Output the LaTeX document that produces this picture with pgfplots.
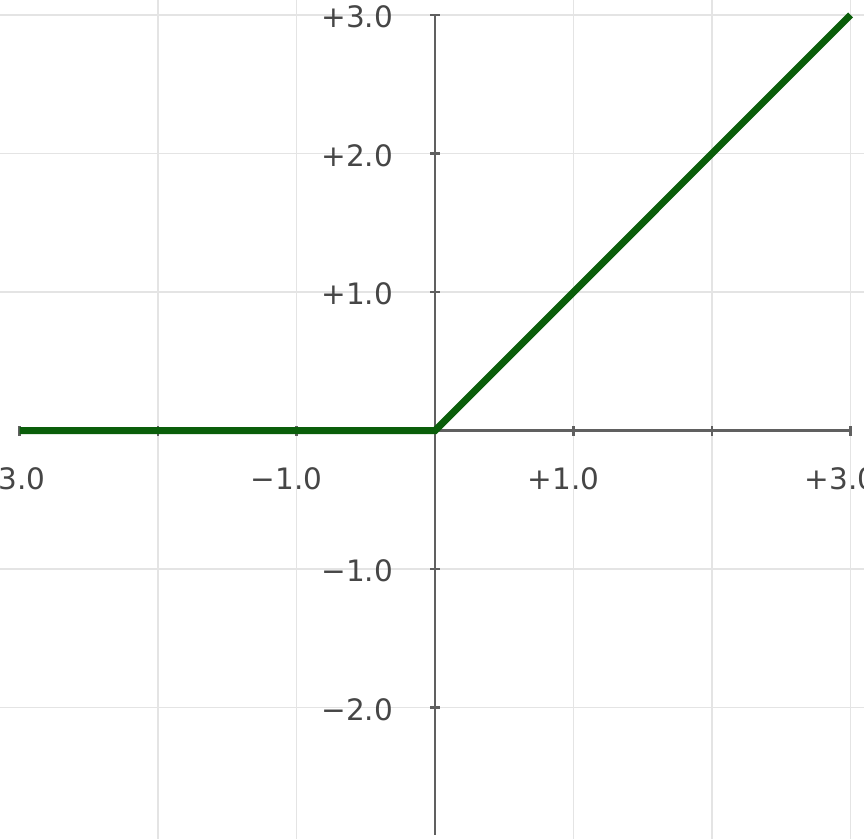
\documentclass[border=0pt]{standalone}
\usepackage{fontspec}
\setmainfont{DejaVu Sans}
\usepackage{pgfplots}
\pgfplotsset{compat=1.18}
\definecolor{relugreen}{RGB}{10,94,10}
\definecolor{axisgray}{RGB}{96,96,96}
\definecolor{gridgray}{RGB}{228,228,228}
\definecolor{labelgray}{RGB}{70,70,70}
\begin{document}
\begin{tikzpicture}
\begin{axis}[
  at={(0,0)}, anchor=south west,
  scale only axis, width=345.6pt, height=335.6pt,
  xmin=-3.141, xmax=3.097, ymin=-2.949, ymax=3.108,
  axis lines=middle, axis line style={draw=none},
  xtick={-2,-1,1,2,3}, xticklabels={,−1.0,+1.0,,+3.0},
  extra x ticks={-3}, extra x tick labels={−3.0},
  extra x tick style={grid=none},
  ytick={-2,-1,1,2,3}, yticklabels={−2.0,−1.0,+1.0,+2.0,+3.0},
  grid=major, grid style={gridgray, line width=0.7pt},
  tick align=center, major tick length=4pt,
  tick style={axisgray, line width=1.1pt},
  ticklabel style={font=\fontsize{11.8}{14}\selectfont, text=labelgray, inner sep=0pt},
  xticklabel style={anchor=center, xshift=-4pt, yshift=-17.2pt},
  yticklabel style={anchor=east, xshift=-14.6pt, yshift=-0.8pt},
]
% axis lines through the origin
\draw[axisgray, line width=1pt] (axis cs:-3,0) -- (axis cs:3,0);
\draw[axisgray, line width=1pt] (axis cs:0,-2.92) -- (axis cs:0,3);
% ReLU
\addplot[relugreen, line width=2.8pt] coordinates {(-3,0) (0,0) (3,3)};
\end{axis}
\pgfresetboundingbox
\useasboundingbox (0,0) rectangle (345.6pt,335.6pt);
\end{tikzpicture}
\end{document}
